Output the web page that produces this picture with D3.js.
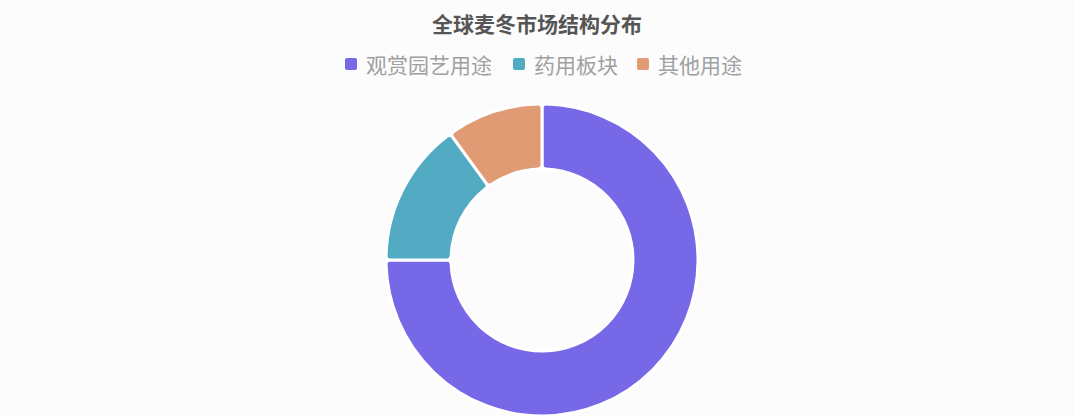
<!DOCTYPE html>
<html lang="zh">
<head>
<meta charset="UTF-8">
<title>全球麦冬市场结构分布</title>
<style>
body {
    margin: 0;
    background-color: #fcfcfc;
    font-family: "Noto Sans CJK SC", sans-serif;
}
</style>
</head>
<body>
<div id="plot"></div>
<script src="https://cdn.jsdelivr.net/npm/d3@7/dist/d3.min.js"></script>
<script>

const w = 1074,
      h = 417;

// data
const categories = ["观赏园艺用途", "药用板块", "其他用途"];
const shares = [75, 15, 10];
const colors = ["#7668e6", "#52abc2", "#e09b74"];
const title = "全球麦冬市场结构分布";

const svg = d3.select("#plot").append("svg")
    .attr("width", w)
    .attr("height", h);

// title
svg.append("text")
    .attr("x", w / 2)
    .attr("y", 23)
    .attr("text-anchor", "middle")
    .attr("dominant-baseline", "central")
    .attr("font-size", 21)
    .attr("font-weight", "bold")
    .attr("fill", "#555")
    .text(title);

// legend
const legendX = [345, 513, 637];
const legend = svg.selectAll(".legend")
    .data(categories)
    .join("g")
    .attr("class", "legend")
    .attr("transform", (d, i) => `translate(${legendX[i]},64)`);

legend.append("rect")
    .attr("x", 0).attr("y", -6)
    .attr("width", 12).attr("height", 12)
    .attr("rx", 2)
    .attr("fill", (d, i) => colors[i]);

legend.append("text")
    .attr("x", 21)
    .attr("y", 0)
    .attr("dominant-baseline", "central")
    .attr("font-size", 21)
    .attr("fill", "#a0a0a0")
    .text(d => d);

// donut
const pie = d3.pie().sort(null).value(d => d);
const arc = d3.arc()
    .innerRadius(91)
    .outerRadius(156)
    .cornerRadius(4);

const g = svg.append("g").attr("transform", "translate(542,260)");

g.selectAll(".slice")
    .data(pie(shares))
    .join("path")
    .attr("class", "slice")
    .attr("d", arc)
    .attr("fill", (d, i) => colors[i])
    .attr("stroke", "#fff")
    .attr("stroke-width", 3);
</script>
</body>
</html>
